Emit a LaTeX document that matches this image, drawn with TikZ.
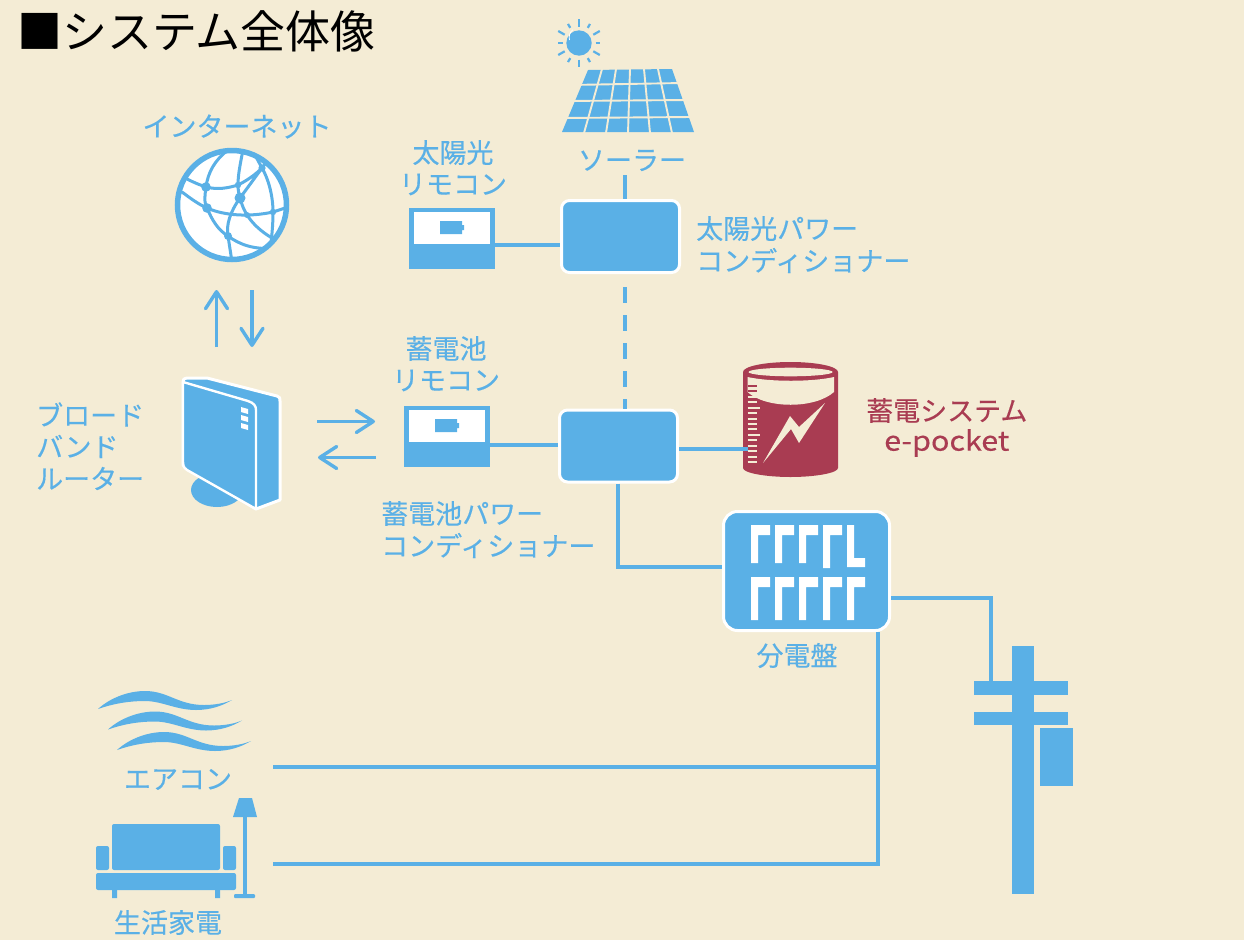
\documentclass[tikz,border=0pt]{standalone}
\usepackage{fontspec}
\setmainfont{Noto Sans CJK JP}
\newfontfamily\lblfont[FakeBold=0.35]{Noto Sans CJK JP}
\usetikzlibrary{arrows.meta,calc}
\definecolor{bgc}{HTML}{F4ECD5}
\definecolor{blu}{HTML}{5AB0E6}
\definecolor{wine}{HTML}{A93C52}
\tikzset{
  lbl/.style={text=blu,inner sep=0pt,font=\lblfont\fontsize{27}{32}\selectfont},
  lbll/.style={lbl,anchor=west},
  winelbl/.style={lbll,text=wine},
  wire/.style={draw=blu,line width=4pt},
  dashwire/.style={wire,dash pattern=on 16pt off 12pt},
  arrowline/.style={draw=blu,line width=3.4pt,-{Straight Barb[length=17pt,width=22pt,line width=3.4pt,round]}},
  pcs/.style={draw=white,fill=blu,line width=3pt,rounded corners=8pt,minimum width=118pt,minimum height=72pt,inner sep=0pt},
  board/.style={draw=white,fill=blu,line width=3pt,rounded corners=14pt,minimum width=166pt,minimum height=119pt,inner sep=0pt},
  remote/.style={fill=blu,minimum width=86pt,minimum height=61pt,inner sep=0pt},
  poleblk/.style={fill=blu,inner sep=0pt},
  brk/.style={fill=white,draw=none},
}
\begin{document}
\begin{tikzpicture}[x=1pt,y=-1pt]
\useasboundingbox (0,0) rectangle (1244,940);
\fill[bgc] (0,0) rectangle (1244,940);
% title
\node[anchor=west,inner sep=0pt,font=\fontsize{45}{50}\selectfont] (title) at (17,31) {■システム全体像};
% sun
\fill[blu] (579,43) circle (12.7);
\draw[white,line width=.8pt] (569.5,40) arc (165:230:10);
\foreach \a in {90,30,-30,-90,-150,150} \draw[blu,line width=2.2pt] (579,43)+(\a:16.5) -- +(\a:24);
\foreach \a in {0,180} \draw[blu,line width=2.2pt] (579,43)+(\a:16.5) -- +(\a:21);
\foreach \a in {60,120,-60,-120} \draw[blu,line width=2.2pt] (579,43)+(\a:17.5) -- +(\a:22);
% solar panel
\fill[blu] (588,70) -- (672,69) -- (694,132) -- (562,132) -- cycle;
\foreach \i in {1,...,5} \draw[bgc,line width=1.9pt] ({588+14*\i},69) -- ({562+22*\i},133);
\draw[bgc,line width=1.9pt] (570,85) -- (682,83);
\draw[bgc,line width=1.9pt] (565,101) -- (688,100);
\draw[bgc,line width=1.9pt] (560,118) -- (692,117);
\node[lbl] (lsolar) at (632,160.5) {ソーラー};
% globe
\draw[blu,fill=white,line width=5.5pt] (232,205) circle (54.5);
\begin{scope}
\clip (232,205) circle (55);
\draw[blu,line width=3pt,line cap=round]
 (187,179) .. controls (195,183) and (200,185) .. (206,187) .. controls (218,190) and (228,188) .. (238,185) .. controls (248,180) and (256,174) .. (262,168)
 (182,192) .. controls (190,198) and (198,204) .. (207,208) .. controls (225,216) and (250,217) .. (273,212) -- (288,207)
 (228,150) .. controls (215,160) and (208,172) .. (206,187) .. controls (204,200) and (205,205) .. (207,208) .. controls (212,220) and (218,230) .. (228,236) .. controls (240,245) and (255,250) .. (275,248)
 (243,150) .. controls (240,165) and (238,175) .. (238,185) .. controls (238,190) and (239,195) .. (240,198) .. controls (243,210) and (250,225) .. (272,238)
 (255,155) -- (262,168) .. controls (268,178) and (273,195) .. (273,212) .. controls (273,225) and (272,232) .. (271,245)
 (240,198) -- (262,168) -- (268,160)
 (240,198) .. controls (230,212) and (226,225) .. (228,236) -- (232,262);
\end{scope}
\fill[blu] (206,187) circle (4.8) (207,208) circle (4.8) (240,198) circle (5.5) (228,236) circle (4) (262,168) circle (3.6) (238,185) circle (3.2) (273,212) circle (3.2) (247,215) circle (3);
\node[lbl] (linternet) at (237,126.5) {インターネット};
% router
\fill[blu] (217,490) ellipse (26 and 17);
\draw[white,line width=3pt,fill=blu,line join=round] (183,382) .. controls (183,378) and (186,378) .. (190,378) -- (207,378) -- (277,396) .. controls (280,397) and (280,398) .. (280,401) -- (280,500) -- (256,509) -- (183,465) -- cycle;
\draw[white,line width=2.4pt,fill=blu,line join=round] (183,382) -- (248,401) .. controls (254,403) and (256,406) .. (256,410) -- (256,509) -- (187,470) .. controls (183,467) and (183,465) .. (183,462) -- cycle;
\fill[white] (241,407) -- (248,409) -- (248,414) -- (241,412) -- cycle
 (241,415) -- (248,417) -- (248,422) -- (241,420) -- cycle
 (241,423) -- (248,425) -- (248,430) -- (241,428) -- cycle;
\node[lbll] (lr1) at (36,414.5) {ブロード};
\node[lbll] (lr2) at (36,446.5) {バンド};
\node[lbll] (lr3) at (36,478.5) {ルーター};
% arrows
\coordinate (upA) at (216.5,347); \coordinate (upB) at (216.5,290);
\coordinate (dnA) at (252,290); \coordinate (dnB) at (252,347);
\coordinate (rtA) at (317,421.5); \coordinate (rtB) at (375,421.5);
\coordinate (ltA) at (376,457.5); \coordinate (ltB) at (318,457.5);
\draw[arrowline] (upA) -- (upB);
\draw[arrowline] (dnA) -- (dnB);
\draw[arrowline] (rtA) -- (rtB);
\draw[arrowline] (ltA) -- (ltB);
% remotes
\node[remote] (srem) at (452,238.5) {};
\fill[white] (414,212) rectangle (490,244);
\fill[blu] (440,221) rectangle (462,234) (462,225) rectangle (464,230);
\node[lbl] (ls1) at (453,152.5) {太陽光};
\node[lbl] (ls2) at (453,184.5) {リモコン};
\node[remote] (brem) at (447,436.5) {};
\fill[white] (409,410) rectangle (485,442);
\fill[blu] (435,419) rectangle (457,432) (457,423) rectangle (459,428);
\node[lbl] (lb1) at (446,348.5) {蓄電池};
\node[lbl] (lb2) at (446,380.5) {リモコン};
% pcs
\node[pcs] (spcs) at (620.5,236.5) {};
\node[pcs] (bpcs) at (618.5,446) {};
\node[lbll] (lsp1) at (696,228.5) {太陽光パワー};
\node[lbll] (lsp2) at (696,260.5) {コンディショナー};
\node[lbll] (lbp1) at (381,513.5) {蓄電池パワー};
\node[lbll] (lbp2) at (381,545.5) {コンディショナー};
% battery
\fill[wine] (743,372) arc (180:360:47.5 and 10) -- (838,468) .. controls (838,473) and (815,477) .. (790.5,477) .. controls (766,477) and (743,473) .. (743,468) -- cycle;
\fill[bgc] (790.5,372) ellipse (42 and 4.3);
\fill[bgc] (747.5,377) .. controls (770,382) and (812,382) .. (834,377) -- (834,392) .. controls (815,409) and (766,409) .. (747.5,392) -- cycle;
\fill[bgc] (763,463) -- (790,416) -- (799,427) -- (825,403) -- (799,443) -- (791,429) -- cycle;
\foreach \i in {2,...,14} {
  \pgfmathsetmacro\ty{386+5.43*\i}
  \pgfmathsetmacro\tx{ifthenelse(\i==4||\i==9,760,757)}
  \draw[bgc,line width=1.9pt] (747.5,\ty) -- (\tx,\ty);
}
\foreach \i in {0,1} \draw[wine,line width=1.9pt] (747.5,{386+5.43*\i}) -- (757,{386+5.43*\i});
\coordinate (batt) at (748,449);
\node[winelbl] (le1) at (866,410.5) {蓄電システム};
\node[winelbl,xscale=1.13] (le2) at (884,443) {e-pocket};
% board
\node[board] (panel) at (806.5,571) {};
\foreach \x in {751,775,799} \fill[brk] (\x,525) rectangle (\x+7,563) (\x,525) rectangle (\x+19,535);
\fill[brk] (823,525) rectangle (830,568) (823,525) rectangle (842,535);
\fill[brk] (847,525) rectangle (854,567) (847,558) rectangle (865,567);
\foreach \x in {751,775,799,823} \fill[brk] (\x,577) rectangle (\x+7,620) (\x,577) rectangle (\x+19,587);
\fill[brk] (847,577) rectangle (854,620) (847,577) rectangle (865,587);
\node[lbl] (lpanel) at (797,655.5) {分電盤};
% pole
\node[poleblk,minimum width=22pt,minimum height=248pt] (pole) at (1023,770) {};
\node[poleblk,minimum width=94pt,minimum height=14pt] (arma) at (1021,688) {};
\node[poleblk,minimum width=94pt,minimum height=13pt] (armb) at (1021,718.5) {};
\node[poleblk,minimum width=33pt,minimum height=58pt] (trans) at (1056.5,757) {};
% appliances
\foreach \d/\e in {0/0,10/20.5,19/41}{
 \fill[blu,shift={(\d,\e)}] (98,709) .. controls (110,698) and (128,691) .. (145,691)
   .. controls (168,691) and (178,705) .. (204,705) .. controls (215,705) and (225,703) .. (232,700)
   .. controls (222,706) and (210,710) .. (196,710) .. controls (176,710) and (162,701) .. (145,701)
   .. controls (128,701) and (112,704) .. (98,709) -- cycle;
}
\node[lbl] (lac) at (178,779.5) {エアコン};
% sofa
\fill[blu,rounded corners=2pt] (112,824) rectangle (220,870);
\fill[blu,rounded corners=2pt] (96,846) rectangle (109,870);
\fill[blu,rounded corners=2pt] (223,846) rectangle (236,870);
\fill[blu,rounded corners=2pt] (96,873) rectangle (236,890);
\fill[blu] (112,890) rectangle (117,898) (215,890) rectangle (220,898);
\fill[blu] (239,798) -- (252,798) -- (257,817) -- (233,817) -- cycle;
\fill[blu] (243,817) rectangle (247,895);
\fill[blu,rounded corners=1pt] (234,894) rectangle (255,898);
\node[lbl] (lhome) at (168,922.5) {生活家電};
% connectors
\coordinate (stop) at (624.5,175);
\coordinate (acend) at (273,767);
\coordinate (homeend) at (273,864);
\coordinate (trunktop) at ($(panel.south)+(71.5,0)$);
\coordinate (trunkac) at (trunktop |- acend);
\coordinate (trunkhome) at (trunktop |- homeend);
\draw[wire] (stop) -- (stop |- spcs.north);
\draw[dashwire] (625,287) -- (625,409);
\draw[wire] (srem.east |- 0,245) -- (spcs.west |- 0,245);
\draw[wire] (brem.east |- 0,445) -- (bpcs.west |- 0,445);
\draw[wire] (bpcs.east |- batt) -- (batt);
\draw[wire] (bpcs.south -| 618,0) |- (panel.west |- 0,567);
\draw[wire] (panel.east |- 0,598) -| (arma.north -| 991,0);
\draw[wire] (trunktop) -- (trunkhome) -- (homeend);
\draw[wire] (acend) -- (trunkac);
\end{tikzpicture}
\end{document}
